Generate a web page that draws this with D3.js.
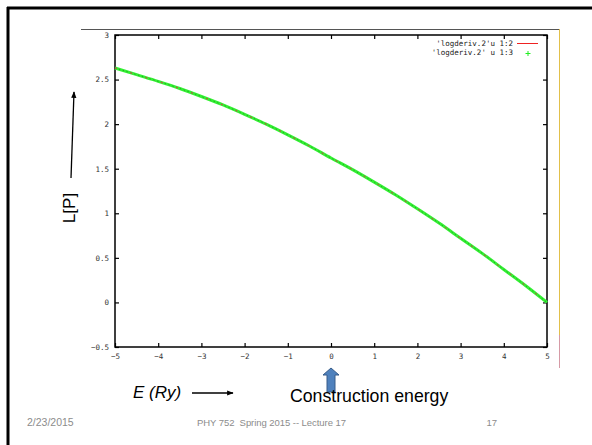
<!DOCTYPE html>
<html>
<head>
<meta charset="utf-8">
<script src="https://cdn.jsdelivr.net/npm/d3@7"></script>
<style>
  body { margin: 0; background: #fff; }
  svg { display: block; }
</style>
</head>
<body>
<svg id="chart" width="592" height="445"></svg>
<script>
// energies (Ry) and log derivative
const energies = [-5, -4.5, -4, -3.5, -3, -2.5, -2, -1.5, -1, -0.5, 0, 0.5, 1, 1.5, 2, 2.5, 3, 3.5, 4, 4.5, 5];
const logDeriv = [2.63, 2.555, 2.48, 2.40, 2.31, 2.215, 2.11, 2.0, 1.88, 1.755, 1.62, 1.49, 1.35, 1.205, 1.05, 0.89, 0.72, 0.55, 0.37, 0.19, 0.0];
const xTicks = [-5, -4, -3, -2, -1, 0, 1, 2, 3, 4, 5];
const yTicks = [-0.5, 0, 0.5, 1, 1.5, 2, 2.5, 3];
const legendLabels = ["'logderiv.2'u 1:2", "'logderiv.2' u 1:3"];

const svg = d3.select("#chart");
const margin = { top: 35, right: 45, bottom: 98, left: 115 };
const width = 592, height = 445;

const x = d3.scaleLinear().domain([-5, 5]).range([margin.left, width - margin.right]);
const y = d3.scaleLinear().domain([-0.5, 3]).range([height - margin.bottom, margin.top]);

const data = energies.map((e, i) => ({ e, v: logDeriv[i] }));

// slide frame
svg.append("line").attr("x1", 7).attr("x2", 592).attr("y1", 8).attr("y2", 8)
  .attr("stroke", "#000").attr("stroke-width", 3);
svg.append("line").attr("x1", 8).attr("x2", 8).attr("y1", 7).attr("y2", 445)
  .attr("stroke", "#000").attr("stroke-width", 3);

// pasted plot image edges
svg.append("line").attr("x1", 81).attr("x2", 559).attr("y1", 29.5).attr("y2", 29.5)
  .attr("stroke", "#555").attr("stroke-width", 1);
svg.append("line").attr("x1", 559.5).attr("x2", 559.5).attr("y1", 29).attr("y2", 335)
  .attr("stroke", "#e2c04a").attr("stroke-width", 1);
svg.append("line").attr("x1", 559.5).attr("x2", 559.5).attr("y1", 335).attr("y2", 368)
  .attr("stroke", "#d69aa6").attr("stroke-width", 1);

const tickFont = "DejaVu Sans Mono, monospace";

// axes, gnuplot style: inward ticks on all four sides
const xAxis = (g) =>
  g.attr("transform", `translate(0,${y(-0.5)})`)
    .call(d3.axisBottom(x).tickValues(xTicks).tickSize(-4).tickPadding(7).tickFormat(d3.format("d")))
    .call((g) => g.select(".domain").remove())
    .call((g) => g.selectAll("text").attr("font-family", tickFont).attr("font-size", 7.5).attr("fill", "#333"));

const yAxis = (g) =>
  g.attr("transform", `translate(${x(-5)},0)`)
    .call(d3.axisLeft(y).tickValues(yTicks).tickSize(-4).tickPadding(6).tickFormat((d) => String(d).replace("-", "\u2212")))
    .call((g) => g.select(".domain").remove())
    .call((g) => g.selectAll("text").attr("font-family", tickFont).attr("font-size", 7.5).attr("fill", "#333"));

svg.append("g").attr("class", "x-axis").call(xAxis);
svg.append("g").attr("class", "y-axis").call(yAxis);

// mirrored ticks top and right
svg.append("g").attr("transform", `translate(0,${y(3)})`)
  .call(d3.axisTop(x).tickValues(xTicks).tickSize(-4).tickFormat(""))
  .call((g) => g.select(".domain").remove());
svg.append("g").attr("transform", `translate(${x(5)},0)`)
  .call(d3.axisRight(y).tickValues(yTicks).tickSize(-4).tickFormat(""))
  .call((g) => g.select(".domain").remove());
svg.selectAll(".tick line").attr("stroke", "#000").attr("stroke-width", 1.2);

// frame
svg.append("rect")
  .attr("x", x(-5)).attr("y", y(3))
  .attr("width", x(5) - x(-5)).attr("height", y(-0.5) - y(3))
  .attr("fill", "none").attr("stroke", "#000").attr("stroke-width", 1.5);

const line = d3.line().x((d) => x(d.e)).y((d) => y(d.v)).curve(d3.curveMonotoneX);

// green "+" points (dense, forming a band) and red line
svg.append("path").datum(data).attr("d", line)
  .attr("fill", "none").attr("stroke", "#33f033").attr("stroke-width", 3);
svg.append("path").datum(data).attr("d", line)
  .attr("fill", "none").attr("stroke", "#1d9a1d").attr("stroke-width", 0.8)
  .attr("stroke-dasharray", "1.5,2.5");
svg.append("path").datum(data).attr("d", line)
  .attr("fill", "none").attr("stroke", "#e04040").attr("stroke-width", 1)
  .attr("stroke-dasharray", "2,14");

// legend
const legend = svg.append("g").attr("font-family", tickFont).attr("font-size", 7.5).attr("fill", "#222");
legend.append("text").attr("x", 513).attr("y", 46).attr("text-anchor", "end").text(legendLabels[0]);
legend.append("text").attr("x", 513).attr("y", 55).attr("text-anchor", "end").text(legendLabels[1]);
svg.append("rect").attr("x", 517).attr("y", 43).attr("width", 21).attr("height", 1)
  .attr("fill", "#ee2222");
svg.append("path").attr("d", "M525.5,53.5h5M528,51v5")
  .attr("stroke", "#22ee22").attr("stroke-width", 1);

// slide annotations
svg.append("defs").append("marker").attr("id", "ah")
  .attr("viewBox", "0 0 10 10").attr("refX", 9).attr("refY", 5)
  .attr("markerWidth", 5).attr("markerHeight", 5).attr("orient", "auto")
  .append("path").attr("d", "M0,1L10,5L0,9z").attr("fill", "#000");

svg.append("text")
  .attr("transform", "translate(75,208) rotate(-90)")
  .attr("text-anchor", "middle").attr("font-family", "Liberation Sans, Arial, sans-serif")
  .attr("font-size", 17).text("L[P]");
svg.append("line").attr("x1", 71).attr("y1", 178).attr("x2", 74).attr("y2", 92)
  .attr("stroke", "#000").attr("stroke-width", 1.3).attr("marker-end", "url(#ah)");

svg.append("text").attr("x", 133).attr("y", 398)
  .attr("font-family", "Liberation Sans, Arial, sans-serif").attr("font-style", "italic")
  .attr("font-size", 17).text("E (Ry)");
svg.append("line").attr("x1", 192).attr("y1", 393).attr("x2", 233).attr("y2", 393)
  .attr("stroke", "#000").attr("stroke-width", 1.3).attr("marker-end", "url(#ah)");

// blue up arrow at E = 0
const ax = x(0);
svg.append("path")
  .attr("d", `M${ax - 4},392V375H${ax - 8}L${ax},368L${ax + 8},375H${ax + 4}V392Z`)
  .attr("fill", "#4f81bd").attr("stroke", "#385d8a").attr("stroke-width", 1);

svg.append("text").attr("x", 290).attr("y", 402)
  .attr("font-family", "Liberation Sans, Arial, sans-serif")
  .attr("font-size", 17.7).text("Construction energy");

// footer
const footer = svg.append("g").attr("font-family", "Liberation Sans, Arial, sans-serif")
  .attr("font-size", 9.5).attr("fill", "#8c8c8c");
footer.append("text").attr("x", 27).attr("y", 426).attr("font-size", 10.5).text("2/23/2015");
footer.append("text").attr("x", 197).attr("y", 426).attr("textLength", 149)
  .attr("xml:space", "preserve").text("PHY 752  Spring 2015 -- Lecture 17");
footer.append("text").attr("x", 497).attr("y", 426).attr("text-anchor", "end").text("17");
</script>
</body>
</html>
